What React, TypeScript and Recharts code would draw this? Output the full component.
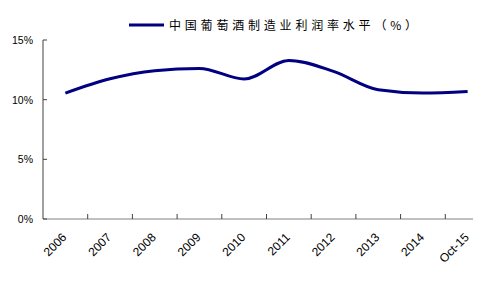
import { LineChart, Line, XAxis, YAxis, Legend } from "recharts";

const years = ["2006", "2007", "2008", "2009", "2010", "2011", "2012", "2013", "2014", "Oct-15"];
const profitRate = [10.55, 11.75, 12.43, 12.62, 11.73, 13.29, 12.37, 10.83, 10.55, 10.68];
const yTicks = [0, 5, 10, 15];
const seriesName = "中国葡萄酒制造业利润率水平（%）";

const NAVY = "#000080";
const FONT = "'Liberation Sans', Arial, sans-serif";

// each year sits in the middle of its slot, tick marks go on the slot borders
const data = years.map((year, i) => ({ pos: i + 0.5, year, value: profitRate[i] }));
const xTicks = years.flatMap((_, i) => (i === 0 ? [0.5] : [i, i + 0.5]));

const XTick = (props: any) => {
  const { x, y, payload } = props;
  const v = payload.value as number;
  if (Number.isInteger(v)) {
    return <line x1={x} y1={y} x2={x} y2={y - 5} stroke="#404040" strokeWidth={1} />;
  }
  const label = years[Math.floor(v)];
  return (
    <text
      x={x + 2}
      y={y + 19}
      textAnchor="end"
      transform={`rotate(-45, ${x + 2}, ${y + 19})`}
      fontSize={12}
      fontFamily={FONT}
      fill="#000"
    >
      {label}
    </text>
  );
};

const YTick = (props: any) => {
  const { x, y, payload } = props;
  return (
    <g>
      <line x1={x} y1={y} x2={x + 4} y2={y} stroke="#404040" strokeWidth={1} />
      <text x={x - 10} y={y + 4} textAnchor="end" fontSize={10.5} fontFamily={FONT} fill="#000">
        {payload.value}%
      </text>
    </g>
  );
};

const LegendBox = () => (
  <div style={{ display: "flex", alignItems: "center", whiteSpace: "nowrap" }}>
    <svg width={36} height={6} style={{ marginRight: 4 }}>
      <line x1={0} y1={3} x2={35} y2={3} stroke={NAVY} strokeWidth={3} />
    </svg>
    <span
      style={{
        fontFamily: "'Noto Sans CJK SC', sans-serif",
        fontSize: 12,
        letterSpacing: 3.8,
        color: "#000",
        lineHeight: "14px",
      }}
    >
      {seriesName}
    </span>
  </div>
);

export default function App() {
  return (
    <div style={{ position: "absolute", left: 0, top: 0, background: "#fff" }}>
      <LineChart width={503} height={281} data={data} margin={{ top: 40, right: 30, bottom: 0, left: 0 }}>
        <Legend
          layout="horizontal"
          verticalAlign="middle"
          align="center"
          wrapperStyle={{ top: 18, left: 129, width: 330 }}
          content={() => <LegendBox />}
        />
        <XAxis
          dataKey="pos"
          type="number"
          domain={[0, 9.62]}
          ticks={xTicks}
          interval={0}
          height={62}
          stroke="#808080"
          tickLine={false}
          tickSize={0}
          tickMargin={0}
          tick={<XTick />}
        />
        <YAxis
          type="number"
          domain={[0, 15]}
          ticks={yTicks}
          width={43}
          stroke="#404040"
          tickLine={false}
          tickSize={0}
          tickMargin={0}
          tick={<YTick />}
        />
        <Line
          type="monotone"
          dataKey="value"
          name={seriesName}
          stroke={NAVY}
          strokeWidth={3}
          dot={false}
          isAnimationActive={false}
        />
      </LineChart>
    </div>
  );
}
